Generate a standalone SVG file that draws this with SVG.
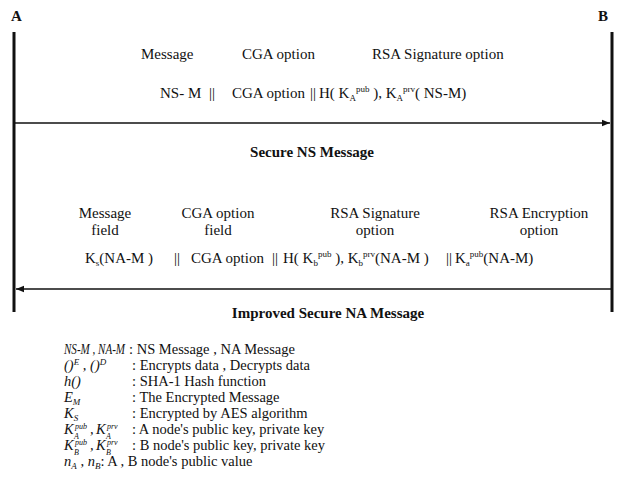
<svg xmlns="http://www.w3.org/2000/svg" width="631" height="487" viewBox="0 0 631 487">
<style>
.t{font-family:"Liberation Serif","Times New Roman",serif;font-size:15px;fill:#111}
.l{font-size:14.5px}
.b{font-weight:bold}
.i{font-style:italic}
.s{font-size:9px}
.ss{font-size:8px}
.life{stroke:#111;stroke-width:3;fill:none}
.msg{stroke:#111;stroke-width:1.6;fill:none}
</style>
<defs>
<marker id="ah" viewBox="0 0 10 10" refX="10" refY="5" markerWidth="8" markerHeight="8" markerUnits="userSpaceOnUse" orient="auto">
<path d="M0,1 L10,5 L0,9 Z" fill="#111"/>
</marker>
</defs>
<g id="nodeA">
<text class="t b" x="11" y="21">A</text>
<line class="life" x1="14" y1="32" x2="14" y2="312"/>
</g>
<g id="nodeB">
<text class="t b" x="598" y="21">B</text>
<line class="life" x1="612" y1="32" x2="612" y2="312"/>
</g>
<g id="connectors">
<line class="msg" x1="15" y1="123" x2="610" y2="123" marker-end="url(#ah)"/>
<line class="msg" x1="611" y1="289" x2="16" y2="289" marker-end="url(#ah)"/>
</g>
<g id="ns-message">
<text class="t" x="141" y="59">Message</text>
<text class="t" x="242" y="59">CGA option</text>
<text class="t" x="372" y="59">RSA Signature option</text>
<text class="t" x="160" y="98">NS- M<tspan x="209">||</tspan><tspan x="232">CGA option</tspan><tspan x="310">||</tspan><tspan x="319">H( K</tspan><tspan dy="3" class="s">A</tspan><tspan dy="-9" class="s">pub</tspan><tspan dy="6"> ), K</tspan><tspan dy="3" class="s">A</tspan><tspan dy="-9" class="s">prv</tspan><tspan dy="6">( NS-M)</tspan></text>
<text class="t b" x="312" y="157" text-anchor="middle">Secure NS Message</text>
</g>
<g id="na-message">
<text class="t" x="105" y="218" text-anchor="middle">Message</text>
<text class="t" x="105" y="235" text-anchor="middle">field</text>
<text class="t" x="218" y="218" text-anchor="middle">CGA option</text>
<text class="t" x="218" y="235" text-anchor="middle">field</text>
<text class="t" x="375" y="218" text-anchor="middle">RSA Signature</text>
<text class="t" x="375" y="235" text-anchor="middle">option</text>
<text class="t" x="539" y="218" text-anchor="middle">RSA Encryption</text>
<text class="t" x="539" y="235" text-anchor="middle">option</text>
<text class="t" x="85" y="263">K<tspan dy="3" class="s">s</tspan><tspan dy="-3">(NA-M )</tspan><tspan x="174">||</tspan><tspan x="191">CGA option</tspan><tspan x="272">||</tspan><tspan x="283">H( K</tspan><tspan dy="3" class="s">b</tspan><tspan dy="-9" class="s">pub</tspan><tspan dy="6"> ), K</tspan><tspan dy="3" class="s">b</tspan><tspan dy="-9" class="s">prv</tspan><tspan dy="6">(NA-M )</tspan><tspan x="446">||</tspan><tspan x="455">K</tspan><tspan dy="3" class="s">a</tspan><tspan dy="-9" class="s">pub</tspan><tspan dy="6">(NA-M)</tspan></text>
<text class="t b" x="328" y="318" text-anchor="middle">Improved Secure NA Message</text>
</g>
<g id="legend">
<text class="t l i" x="64" y="354" textLength="61" lengthAdjust="spacingAndGlyphs">NS-M , NA-M</text>
<text class="t l" x="129" y="354">: NS Message , NA Message</text>
<text class="t l i" x="64" y="370">()<tspan dy="-5" class="s">E</tspan><tspan dy="5"> , ()</tspan><tspan dy="-5" class="s">D</tspan></text>
<text class="t l" x="132" y="370">: Encrypts data , Decrypts data</text>
<text class="t l i" x="64" y="386">h()</text>
<text class="t l" x="132" y="386">: SHA-1 Hash function</text>
<text class="t l i" x="64" y="402">E<tspan dy="3" class="s">M</tspan></text>
<text class="t l" x="132" y="402">: The Encrypted Message</text>
<text class="t l i" x="64" y="418">K<tspan dy="3" class="s">S</tspan></text>
<text class="t l" x="132" y="418">: Encrypted by AES algorithm</text>
<text class="t l i" x="64" y="434">K</text>
<text class="t i ss" x="74" y="439">A</text>
<text class="t i ss" x="75" y="429">pub</text>
<text class="t l i" x="90" y="434">,</text>
<text class="t l i" x="96" y="434">K</text>
<text class="t i ss" x="106" y="439">A</text>
<text class="t i ss" x="107" y="429">prv</text>
<text class="t l" x="132" y="434">: A node's public key, private key</text>
<text class="t l i" x="64" y="450">K</text>
<text class="t i ss" x="74" y="455">B</text>
<text class="t i ss" x="75" y="445">pub</text>
<text class="t l i" x="90" y="450">,</text>
<text class="t l i" x="96" y="450">K</text>
<text class="t i ss" x="106" y="455">B</text>
<text class="t i ss" x="107" y="445">prv</text>
<text class="t l" x="132" y="450">: B node's public key, private key</text>
<text class="t l" x="64" y="466"><tspan class="i">n</tspan><tspan dy="3" class="s i">A</tspan><tspan dy="-3"> , </tspan><tspan class="i">n</tspan><tspan dy="3" class="s i">B</tspan><tspan dy="-3">: A , B node's public value</tspan></text>
</g>
</svg>
